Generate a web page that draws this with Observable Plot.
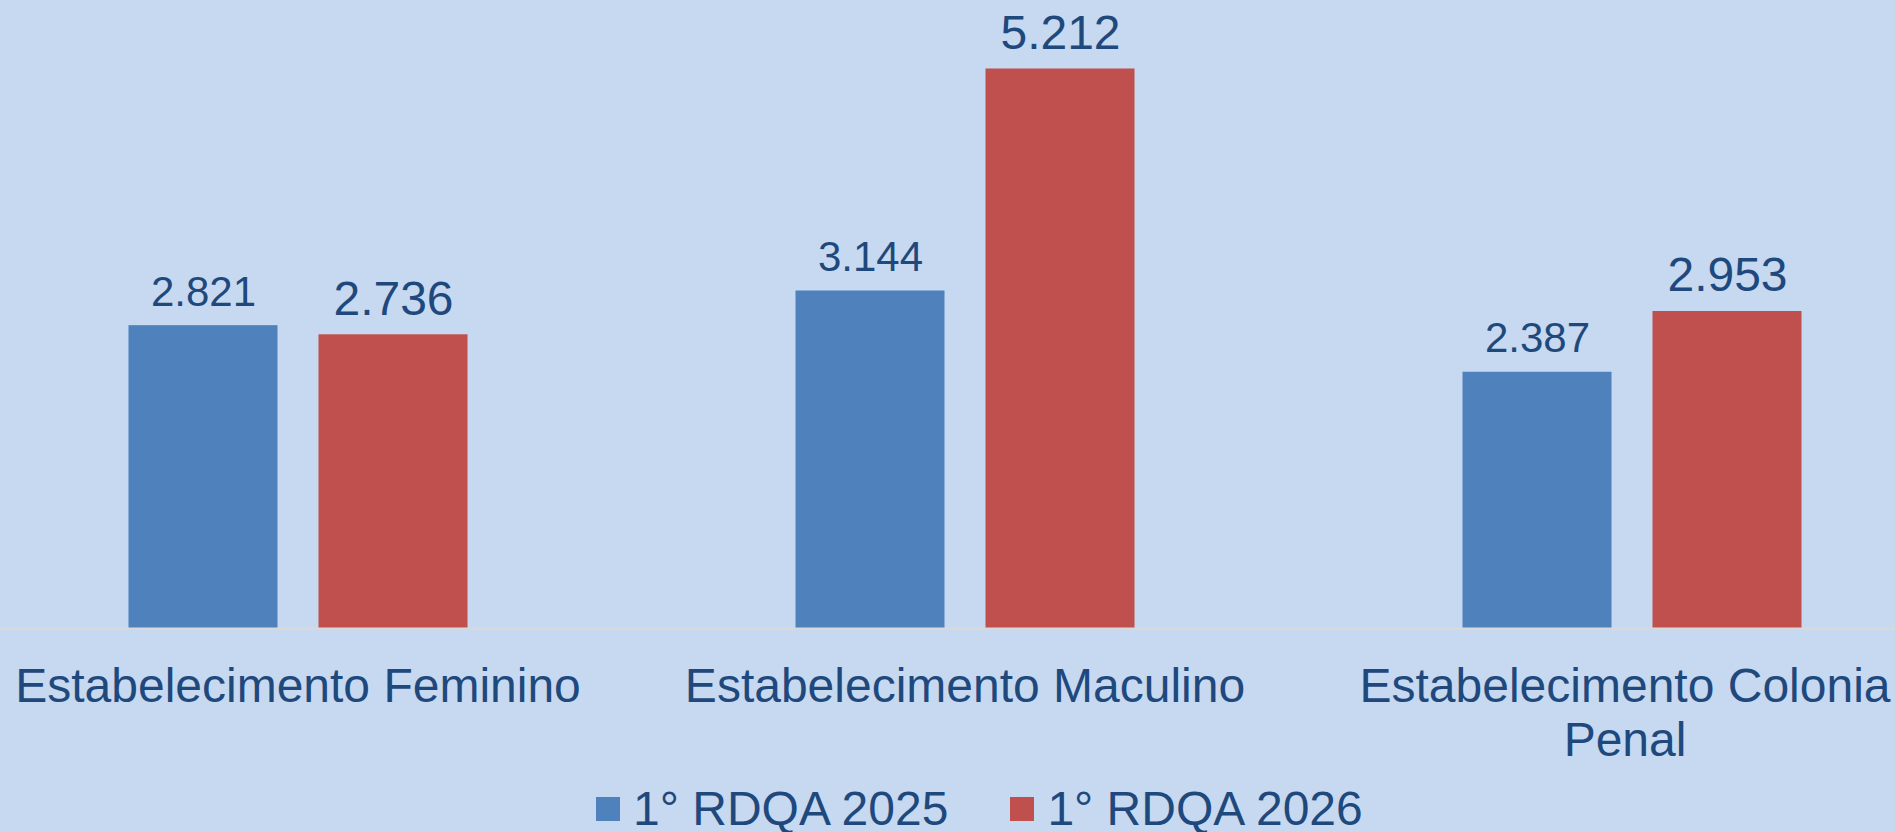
<!DOCTYPE html>
<html><head><meta charset="utf-8">
<script src="https://cdn.jsdelivr.net/npm/d3@7"></script>
<script src="https://cdn.jsdelivr.net/npm/@observablehq/plot@0.6"></script>
<style>
html,body{margin:0;padding:0;background:#C6D9F1;width:1895px;height:832px;overflow:hidden;}
#chart{position:relative;width:1895px;height:832px;background:#C6D9F1;}
#chart svg{display:block;}
#legend{position:absolute;left:596px;top:785px;}
.lg-swatch{margin-right:62px !important;}
.lg-swatch > svg{margin-right:13px !important;}
</style></head><body><div id="chart"><div id="legend"></div></div>
<script>
const categories = ["Estabelecimento Feminino", "Estabelecimento Maculino", "Estabelecimento Colonia Penal"];
const series = ["1° RDQA 2025", "1° RDQA 2026"];
const values2025 = [2821, 3144, 2387];
const values2026 = [2736, 5212, 2953];
const colors = ["#4F81BD", "#C0504D"];

const data = categories.flatMap((c, i) => [
  {category: c, series: series[0], value: values2025[i]},
  {category: c, series: series[1], value: values2026[i]}
]);
const fmt = d3.formatLocale({decimal: ",", thousands: ".", grouping: [3], currency: ["", ""]}).format(",d");
const font = "'Liberation Sans', Arial, sans-serif";
const axisOpts = {anchor: "bottom", tickSize: 0, tickPadding: 35, fontSize: 48, lineHeight: 1.125,
  fill: "#1F497D", label: null, fontFamily: font, tickFormat: d => d.replace(" Penal", "\nPenal")};

const plot = Plot.plot({
  width: 1895, height: 790,
  marginTop: 0, marginBottom: 162, marginLeft: -36.5, marginRight: -69.5,
  style: {background: "transparent", fontFamily: font, color: "#1F497D", overflow: "visible"},
  fx: {domain: categories, padding: 0, label: null},
  x: {domain: series, paddingInner: 0.216, paddingOuter: 0.863, axis: null},
  y: {domain: [0, 5850], axis: null},
  color: {domain: series, range: colors},
  marks: [
    Plot.barY(data, {fx: "category", x: "series", y: "value", fill: "series"}),
    Plot.ruleY([0], {stroke: "#D9D9D9", strokeWidth: 2}),
    Plot.text(data, {fx: "category", x: "series", y: "value", text: d => fmt(d.value),
      lineAnchor: "bottom", dy: -20, fill: "#1F497D", fontFamily: font,
      fontSize: d => d.series === series[0] ? 42 : 48}),
    Plot.axisFx({...axisOpts, ticks: categories.slice(0, 2)}),
    Plot.axisFx({...axisOpts, ticks: categories.slice(2), dx: -7})
  ]
});
document.getElementById("chart").insertBefore(plot, document.getElementById("legend"));

const legend = Plot.legend({
  color: {domain: series, range: colors},
  legend: "swatches",
  swatchSize: 24,
  className: "lg",
  style: {fontSize: "48px", fontFamily: font, color: "#1F497D", background: "transparent", lineHeight: "48px"}
});
document.getElementById("legend").appendChild(legend);
</script></body></html>
